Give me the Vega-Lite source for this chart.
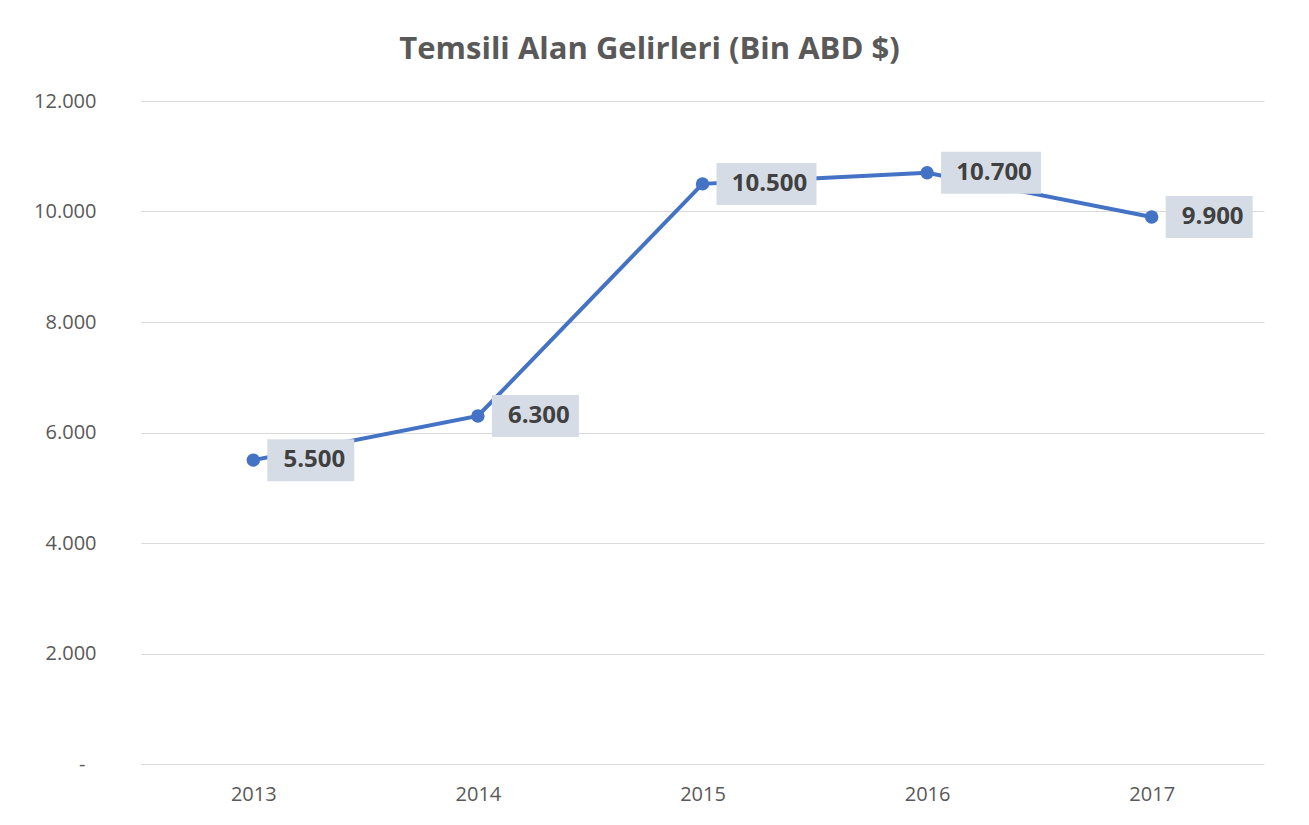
{
  "$schema": "https://vega.github.io/schema/vega-lite/v6.json",
  "width": 1123,
  "height": 663,
  "autosize": "none",
  "padding": {"left": 141, "top": 101, "right": 45, "bottom": 61},
  "background": "white",
  "config": {
    "locale": {"number": {"decimal": ",", "thousands": ".", "grouping": [3], "currency": ["", "$"]}},
    "view": {"stroke": null},
    "font": "Open Sans"
  },
  "title": {
    "text": "Temsili Alan Gelirleri (Bin ABD $)",
    "fontSize": 31,
    "fontWeight": "bold",
    "color": "#595959",
    "font": "Open Sans",
    "dx": -53,
    "offset": 25
  },
  "data": {
    "values": [
      {"year": "2013", "value": 5500},
      {"year": "2014", "value": 6300},
      {"year": "2015", "value": 10500},
      {"year": "2016", "value": 10700},
      {"year": "2017", "value": 9900}
    ]
  },
  "encoding": {
    "x": {
      "field": "year",
      "type": "ordinal",
      "scale": {"type": "point", "padding": 0.5},
      "axis": {
        "title": null,
        "labelAngle": 0,
        "domain": false,
        "ticks": false,
        "grid": false,
        "labelPadding": 20,
        "labelFontSize": 20,
        "labelColor": "#595959",
        "labelFont": "Open Sans"
      }
    },
    "y": {
      "field": "value",
      "type": "quantitative",
      "scale": {"domain": [0, 12000]},
      "axis": {
        "title": null,
        "values": [0, 2000, 4000, 6000, 8000, 10000, 12000],
        "format": ",.0f",
        "labelExpr": "datum.value == 0 ? '-' : datum.label",
        "grid": true,
        "gridColor": "#d9d9d9",
        "gridWidth": 1,
        "domain": false,
        "ticks": false,
        "labelPadding": {"condition": {"test": "datum.value == 0", "value": 56}, "value": 45},
        "labelFontSize": 20,
        "labelColor": "#595959",
        "labelFont": "Open Sans"
      }
    }
  },
  "layer": [
    {"mark": {"type": "line", "color": "#4472c4", "strokeWidth": 4}},
    {"mark": {"type": "point", "filled": true, "size": 180, "color": "#4472c4", "opacity": 1}},
    {
      "transform": [{"filter": "datum.value < 10000"}],
      "mark": {"type": "rect", "color": "#d6dce5", "xOffset": 14, "x2Offset": 101, "yOffset": -21, "y2Offset": 21},
      "encoding": {"x2": {"field": "year"}, "y2": {"field": "value"}}
    },
    {
      "transform": [{"filter": "datum.value >= 10000"}],
      "mark": {"type": "rect", "color": "#d6dce5", "xOffset": 14, "x2Offset": 114, "yOffset": -21, "y2Offset": 21},
      "encoding": {"x2": {"field": "year"}, "y2": {"field": "value"}}
    },
    {
      "transform": [{"filter": "datum.value < 10000"}],
      "mark": {"type": "text", "dx": 61, "fontSize": 24, "fontWeight": "bold", "color": "#404040", "align": "center", "baseline": "middle", "font": "Open Sans"},
      "encoding": {"text": {"field": "value", "type": "quantitative", "format": ",.0f"}}
    },
    {
      "transform": [{"filter": "datum.value >= 10000"}],
      "mark": {"type": "text", "dx": 67, "fontSize": 24, "fontWeight": "bold", "color": "#404040", "align": "center", "baseline": "middle", "font": "Open Sans"},
      "encoding": {"text": {"field": "value", "type": "quantitative", "format": ",.0f"}}
    }
  ]
}
